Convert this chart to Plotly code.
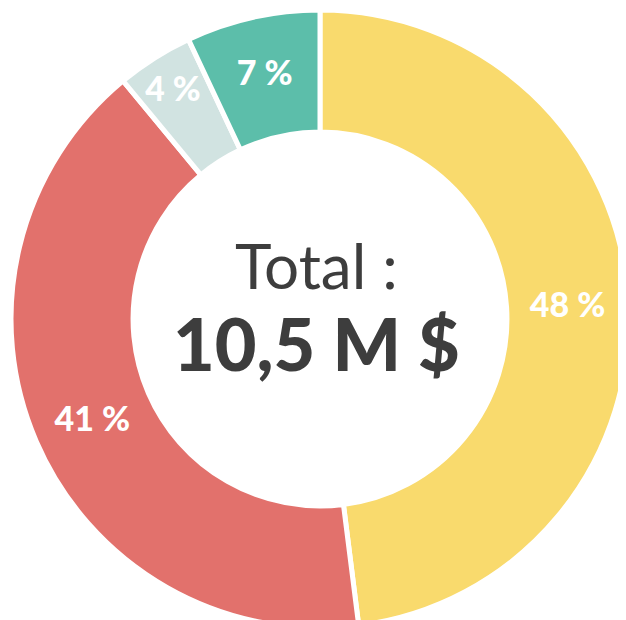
import plotly.graph_objects as go

categories = ["A", "B", "C", "D"]
values = [48, 41, 4, 7]
labels_text = ["48 %", "41 %", "4 %", "7 %"]
colors = ["#F9DA6D", "#E2716C", "#D1E3E1", "#5CBEAA"]
center_title = "Total :"
center_value = "10,5 M $"

W, H = 626, 620
fig = go.Figure(go.Pie(
    labels=categories,
    values=values,
    text=labels_text,
    texttemplate="%{text}",
    textposition="inside",
    insidetextorientation="horizontal",
    textfont=dict(family="Lato", size=34, color="white", weight=900),
    marker=dict(colors=colors, line=dict(color="white", width=5)),
    hole=0.605,
    sort=False,
    direction="clockwise",
    rotation=0,
    showlegend=False,
    hoverinfo="skip",
    domain=dict(x=[3 / W, 621 / W], y=[0, 618 / H]),
))

fig.add_annotation(text=center_title, x=308 / W, y=1 - 256.5 / H, xref="paper", yref="paper",
                   showarrow=False, xanchor="center", yanchor="middle",
                   font=dict(family="Lato", size=62, color="#3D3D3D"))
fig.add_annotation(text=center_value, x=308 / W, y=1 - 335 / H, xref="paper", yref="paper",
                   showarrow=False, xanchor="center", yanchor="middle",
                   font=dict(family="Lato", size=72, color="#3D3D3D", weight=900))

fig.update_layout(width=W, height=H, margin=dict(l=0, r=0, t=0, b=0),
                  paper_bgcolor="white", plot_bgcolor="white")
fig.write_html("out.html")
